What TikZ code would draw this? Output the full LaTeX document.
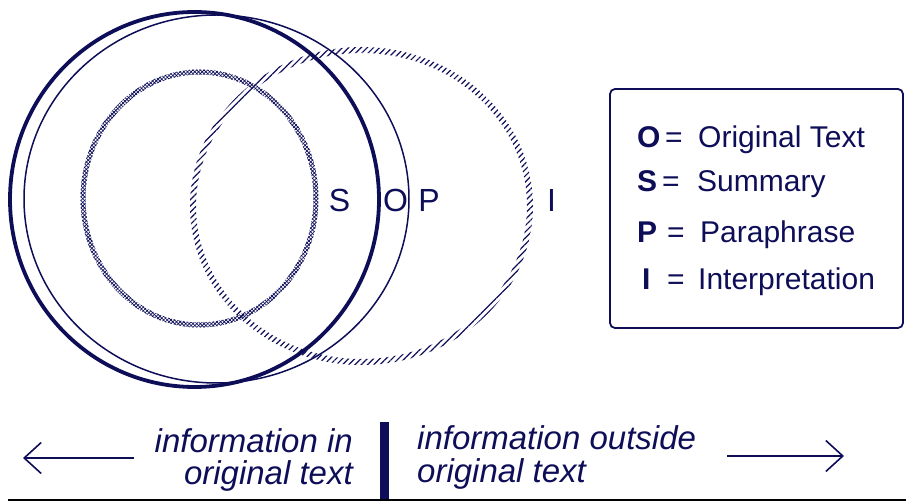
\documentclass[tikz,border=0pt]{standalone}
\usepackage{fontspec}
\setmainfont{Liberation Sans}
\usetikzlibrary{patterns.meta,arrows.meta}
\definecolor{navy}{RGB}{14,14,88}
\begin{document}
\begin{tikzpicture}[x=1pt,y=-1pt,
  ocircle/.style={draw=navy,line width=3.8pt},
  pcircle/.style={draw=navy,line width=1.5pt},
  hatchring/.style={pattern={Lines[angle=45,distance=4.4pt,line width=1.2pt]},pattern color=navy,even odd rule},
  checkring/.style={pattern={Lines[angle=45,distance=2.6pt,line width=0.75pt]},pattern color=navy,even odd rule},
  checkring2/.style={pattern={Lines[angle=-45,distance=2.6pt,line width=0.75pt]},pattern color=navy,even odd rule},
  biglabel/.style={text=navy,anchor=base,inner sep=0pt,font=\fontsize{32}{36}\selectfont},
  legletter/.style={text=navy,anchor=base west,inner sep=0pt,font=\fontsize{30}{34}\selectfont\bfseries},
  legtext/.style={text=navy,anchor=base west,inner sep=0pt,font=\fontsize{30}{34}\selectfont},
  legendbox/.style={draw=navy,line width=1.8pt,rounded corners=5pt,inner sep=0pt},
  infotext/.style={text=navy,inner sep=0pt,font=\fontsize{33}{38}\selectfont\itshape},
  arrowline/.style={draw=navy,line width=1.6pt,-{Straight Barb[length=17pt,width=31pt,line width=1.6pt]}}
]
\useasboundingbox (0,0) rectangle (906,502);

% I ellipse (hatched ring)
\path[hatchring] (361.5,206) ellipse [x radius=171.5, y radius=159]
                 (361.5,206) ellipse [x radius=165.5, y radius=153];
% S ring (checkered)
\path[checkring] (199.5,198.5) ellipse [x radius=119, y radius=129]
                 (199.5,198.5) ellipse [x radius=114, y radius=124];
\path[checkring2] (199.5,198.5) ellipse [x radius=119, y radius=129]
                  (199.5,198.5) ellipse [x radius=114, y radius=124];
% P circle (thin)
\path[pcircle] (216.5,199) ellipse [x radius=192.5, y radius=184];
% O circle (thick)
\path[ocircle] (194.5,199.5) ellipse [x radius=184.5, y radius=187.5];

% labels
\node[biglabel] (lS) at (339.5,212) {S};
\node[biglabel] (lO) at (395.5,212) {O};
\node[biglabel] (lP) at (429,212) {P};
\node[biglabel] (lI) at (551.5,212) {I};

% legend
\node[legendbox,minimum width=293pt,minimum height=239pt] (legend) at (756.5,208.5) {};
\node[legletter] (kO) at (637,148) {O};
\node[legtext] (eO) at (665,148) {=};
\node[legtext] (tO) at (698,148) {Original Text};
\node[legletter] (kS) at (637,192) {S};
\node[legtext] (eS) at (662,192) {=};
\node[legtext] (tS) at (697,192) {Summary};
\node[legletter] (kP) at (637,243) {P};
\node[legtext] (eP) at (667,243) {=};
\node[legtext] (tP) at (700,243) {Paraphrase};
\node[legletter] (kI) at (642,290) {I};
\node[legtext] (eI) at (667,290) {=};
\node[legtext] (tI) at (698,290) {Interpretation};

% bottom
\node[infotext,anchor=base east] (in1) at (353,453) {information in};
\node[infotext,anchor=base east] (in2) at (353,485) {original text};
\node[infotext,anchor=base west] (out1) at (417,450) {information outside};
\node[infotext,anchor=base west] (out2) at (417,483) {original text};
\fill[navy] (380,422) rectangle (389,500);
\coordinate (la1) at (134,458);
\coordinate (la2) at (23,458);
\coordinate (ra1) at (727,456);
\coordinate (ra2) at (844,456);
\draw[arrowline] (la1) -- (la2);
\draw[arrowline] (ra1) -- (ra2);
\coordinate (b1) at (8,500);
\coordinate (b2) at (906,500);
\draw[black,line width=1.5pt] (b1) -- (b2);
\end{tikzpicture}
\end{document}
